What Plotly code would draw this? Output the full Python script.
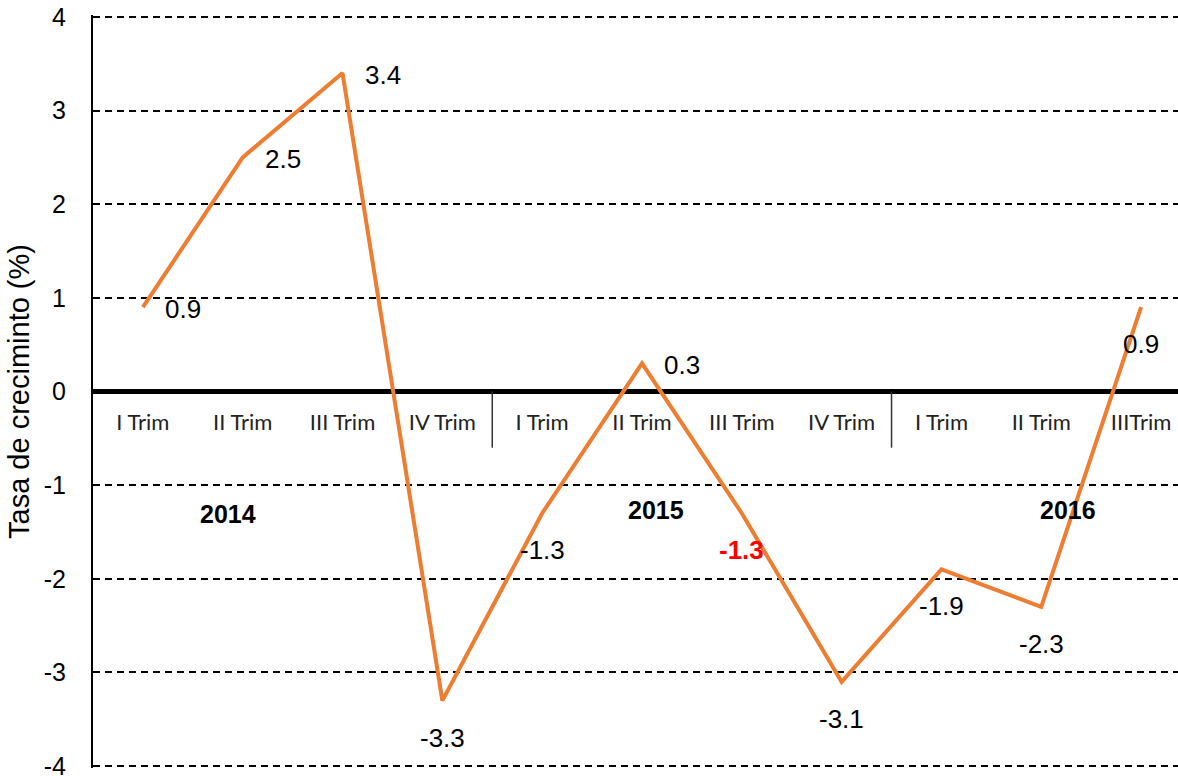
import plotly.graph_objects as go

# data
quarters = ["I Trim", "II Trim", "III Trim", "IV Trim",
            "I Trim", "II Trim", "III Trim", "IV Trim",
            "I Trim", "II Trim", "IIITrim"]
growth = [0.9, 2.5, 3.4, -3.3, -1.3, 0.3, -1.3, -3.1, -1.9, -2.3, 0.9]
years = ["2014", "2015", "2016"]
y_ticks = [-4, -3, -2, -1, 0, 1, 2, 3, 4]

# label placement / styles
label_side = ["right", "right", "right", "below", "below", "right",
              "below", "below", "below", "below", "below"]
highlight = {6}
year_pos = [(0.85, -1.31), (5.14, -1.26), (9.27, -1.27)]
group_breaks = [3.5, 7.5]

x = list(range(len(growth)))

fig = go.Figure()
fig.add_trace(go.Scatter(
    x=x,
    y=growth,
    mode="lines",
    line=dict(color="#ED7D31", width=4),
    showlegend=False,
    hoverinfo="skip",
))

for i, v in enumerate(growth):
    txt = f"{v:.1f}"
    color = "black"
    if i in highlight:
        txt = f"<b>{txt}</b>"
        color = "red"
    if label_side[i] == "right":
        fig.add_annotation(x=i, y=v, text=txt, showarrow=False,
                           xanchor="left", yanchor="middle",
                           xshift=20, yshift=-2,
                           font=dict(family="Liberation Sans, Arial", size=26, color=color))
    else:
        fig.add_annotation(x=i, y=v, text=txt, showarrow=False,
                           xanchor="center", yanchor="top",
                           xshift=0, yshift=-20,
                           font=dict(family="Liberation Sans, Arial", size=26, color=color))

for yr, (px, py) in zip(years, year_pos):
    fig.add_annotation(x=px, y=py, text=f"<b>{yr}</b>", showarrow=False,
                       font=dict(family="Liberation Sans, Arial", size=25, color="black"))

for b in group_breaks:
    fig.add_shape(type="line", x0=b, x1=b, y0=0, y1=-0.6,
                  line=dict(color="#333333", width=1.5))

fig.update_layout(
    width=1178,
    height=776,
    margin=dict(l=93, r=0, t=15, b=8),
    paper_bgcolor="white",
    plot_bgcolor="white",
    xaxis=dict(
        range=[-0.5, 10.37],
        tickvals=x,
        ticktext=quarters,
        anchor="free",
        position=0.5,
        automargin=False,
        showgrid=False,
        zeroline=False,
        showline=False,
        ticks="",
        ticklabelstandoff=15,
        tickfont=dict(family="Lato, Open Sans", size=22, color="#222222"),
    ),
    yaxis=dict(
        range=[-4.02, 4.02],
        tickvals=y_ticks,
        ticktext=[str(t) for t in y_ticks],
        automargin=False,
        ticklabeloverflow="allow",
        showgrid=True,
        gridcolor="black",
        gridwidth=1.6,
        griddash="7px,5px",
        zeroline=True,
        zerolinecolor="black",
        zerolinewidth=5,
        showline=True,
        linecolor="black",
        linewidth=2,
        ticks="",
        ticklabelstandoff=20,
        tickfont=dict(family="Liberation Sans, Arial", size=25, color="black"),
        title=dict(text="Tasa de creciminto (%)",
                   font=dict(family="Liberation Sans, Arial", size=29, color="black"),
                   standoff=6),
    ),
)

# drop the page's default body margin so the figure fills the window
fig.write_html("out.html", config={"displayModeBar": False},
               post_script="document.body.style.margin='0';")
